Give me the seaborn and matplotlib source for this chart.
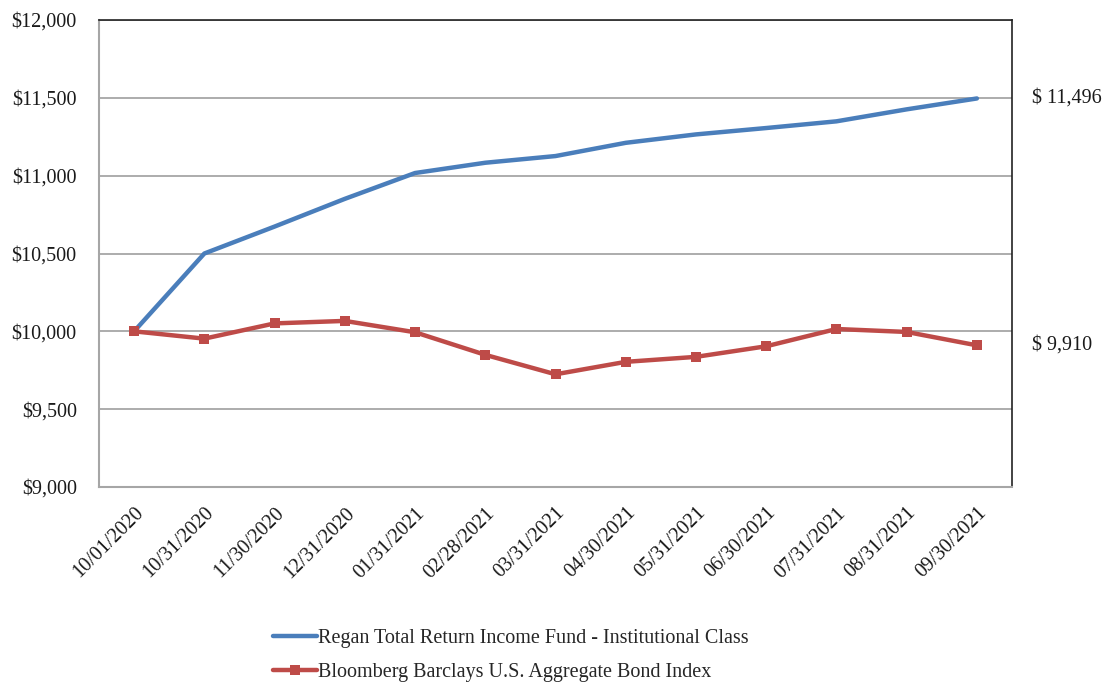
import matplotlib
matplotlib.use("Agg")
import matplotlib.pyplot as plt
import matplotlib.transforms as mtransforms
import seaborn as sns
import pandas as pd

dates = ["10/01/2020", "10/31/2020", "11/30/2020", "12/31/2020", "01/31/2021",
         "02/28/2021", "03/31/2021", "04/30/2021", "05/31/2021", "06/30/2021",
         "07/31/2021", "08/31/2021", "09/30/2021"]
fund_name = "Regan Total Return Income Fund - Institutional Class"
index_name = "Bloomberg Barclays U.S. Aggregate Bond Index"
fund_values = [10000, 10500, 10673, 10851, 11017, 11083, 11126, 11211, 11265,
               11306, 11349, 11426, 11496]
index_values = [10000, 9953, 10051, 10067, 9994, 9849, 9724, 9804, 9836,
                9904, 10015, 9996, 9910]
end_labels = ["$ 11,496", "$ 9,910"]
y_ticks = [9000, 9500, 10000, 10500, 11000, 11500, 12000]

sns.set_theme(style="white")
plt.rcParams['font.family'] = ['Liberation Serif', 'DejaVu Serif']
FS = 14.5

pos = list(range(len(dates)))
df = pd.DataFrame({
    "pos": pos * 2,
    "value": fund_values + index_values,
    "series": [fund_name] * len(dates) + [index_name] * len(dates),
})

fig = plt.figure(figsize=(11.02, 6.84), dpi=100)
ax = fig.add_axes([99 / 1102, 1 - 487 / 684, (1012 - 99) / 1102, (487 - 20) / 684])

blue = "#4a7ebb"
red = "#be4b48"
sns.lineplot(data=df[df.series == fund_name], x="pos", y="value", color=blue,
             linewidth=3.2, ax=ax, label=fund_name, zorder=3)
sns.lineplot(data=df[df.series == index_name], x="pos", y="value", color=red,
             linewidth=3.2, marker="s", markersize=7.5, markeredgewidth=0,
             ax=ax, label=index_name, zorder=4)

ax.set_xlim(-0.5, len(dates) - 0.5)
ax.set_ylim(9000, 12000)
ax.set_yticks(y_ticks)
ax.set_yticklabels([f"${v:,.0f}" for v in y_ticks], fontsize=FS, color="#1a1a1a")
ax.set_xticks(pos)
ax.set_xticklabels(dates, rotation=45, ha="right", rotation_mode="anchor",
                   fontsize=FS, color="#1a1a1a")
shift = mtransforms.ScaledTranslation(-4 / 100, 0, fig.dpi_scale_trans)
for lab in ax.get_xticklabels():
    lab.set_transform(lab.get_transform() + shift)
ax.tick_params(axis="x", pad=12, length=0)
ax.tick_params(axis="y", pad=16, length=0)
ax.set_xlabel("")
ax.set_ylabel("")
ax.grid(axis="y", color="#a6a6a6", linewidth=1.3)
ax.grid(axis="x", visible=False)
for s in ["left", "bottom"]:
    ax.spines[s].set_color("#a6a6a6")
    ax.spines[s].set_linewidth(1.5)
for s in ["top", "right"]:
    ax.spines[s].set_color("#222222")
    ax.spines[s].set_linewidth(1.2)

for val, lab in zip([fund_values[-1], index_values[-1]], end_labels):
    ax.annotate(lab, xy=(1.0, val), xycoords=("axes fraction", "data"),
                xytext=(20, 0), textcoords="offset pixels",
                ha="left", va="center", fontsize=FS, color="#1a1a1a")

ax.get_legend().remove()
handles, labels = ax.get_legend_handles_labels()
fig.legend(handles, labels, loc="upper left", bbox_to_anchor=(265 / 1102, 1 - 621 / 684),
           frameon=False, fontsize=FS, handlelength=2.2, handletextpad=0.05,
           labelspacing=0.75, borderaxespad=0)

fig.savefig("out.png", dpi=100)
